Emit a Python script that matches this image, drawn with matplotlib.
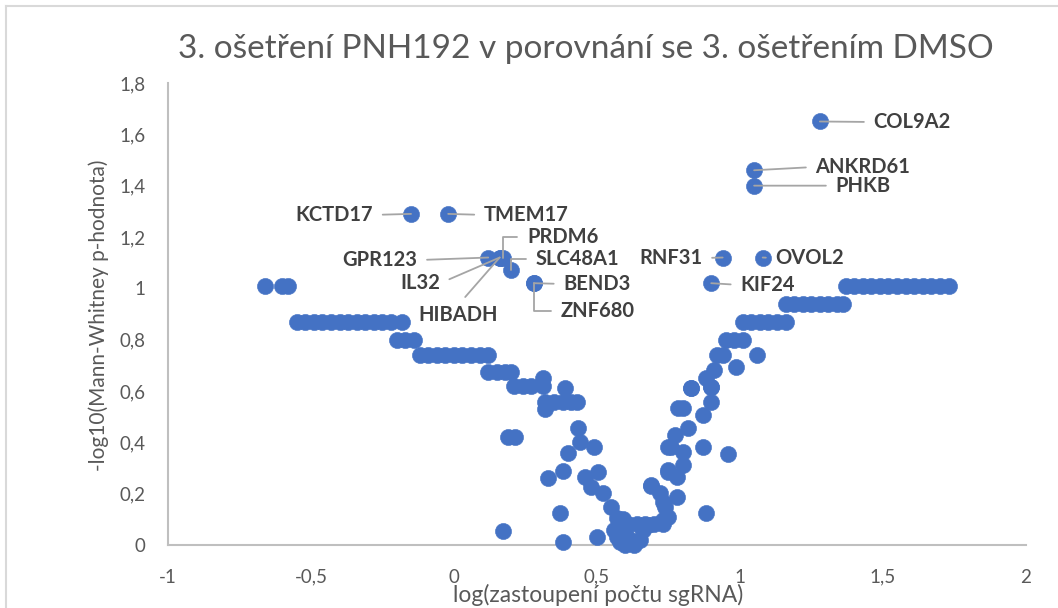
"""
Volcano-like scatter: 3. ošetření PNH192 vs 3. ošetření DMSO (Excel look).
"""
import matplotlib
matplotlib.use("Agg")
import matplotlib.pyplot as plt
from matplotlib.lines import Line2D

# ── DATA ─────────────────────────────────────────────────────────
# horizontal "bands" of points sharing the same p-value
band_101_x = [-0.66, -0.60, -0.58,
              1.37, 1.40, 1.43, 1.46, 1.49, 1.52, 1.55, 1.58, 1.61, 1.64, 1.67, 1.70, 1.73]
band_094_x = [1.16, 1.19, 1.22, 1.25, 1.28, 1.31, 1.34, 1.36]
band_087_x = [-0.55, -0.52, -0.49, -0.46, -0.43, -0.40, -0.37, -0.34, -0.31, -0.28,
              -0.25, -0.22, -0.18,
              1.01, 1.04, 1.07, 1.10, 1.13, 1.16]
band_080_x = [-0.20, -0.17, -0.14, 0.95, 0.98, 1.01]
band_074_x = [-0.12, -0.09, -0.06, -0.03, 0.00, 0.03, 0.06, 0.09, 0.12, 0.92, 0.94, 1.06]
band_068_x = [0.12, 0.15, 0.18, 0.20]
band_062_x = [0.21, 0.24, 0.27, 0.31]
band_056_x = [0.32, 0.35, 0.38, 0.41, 0.43]
band_008_x = [0.58, 0.61, 0.64, 0.67, 0.70, 0.73]

bands = {1.01: band_101_x, 0.94: band_094_x, 0.87: band_087_x, 0.80: band_080_x,
         0.74: band_074_x, 0.675: band_068_x, 0.62: band_062_x, 0.557: band_056_x,
         0.08: band_008_x}

# remaining scattered sgRNAs
other_x = [0.31, 0.39, 0.32, 0.435, 0.44, 0.49, 0.40, 0.38, 0.33, 0.46, 0.505, 0.48,
           0.52, 0.55, 0.57, 0.37, 0.17, 0.38, 0.50, 0.19, 0.215,
           0.56, 0.57, 0.58, 0.60, 0.60, 0.62, 0.63, 0.65, 0.66, 0.59,
           0.69, 0.73, 0.75, 0.75, 0.76, 0.785,
           0.83, 0.90, 0.90, 0.80, 0.87, 0.82, 0.775, 0.75, 0.87, 0.96, 0.80, 0.80,
           0.75, 0.78, 0.69, 0.72, 0.78, 0.74, 0.88, 0.73, 0.68,
           0.985, 0.91, 0.88, 0.90, 0.83]
other_y = [0.65, 0.61, 0.53, 0.456, 0.40, 0.38, 0.36, 0.29, 0.26, 0.265, 0.284, 0.226,
           0.203, 0.148, 0.105, 0.125, 0.055, 0.012, 0.031, 0.42, 0.42,
           0.06, 0.03, 0.01, 0.00, 0.05, 0.02, 0.00, 0.02, 0.06, 0.10,
           0.234, 0.168, 0.109, 0.284, 0.382, 0.534,
           0.61, 0.616, 0.557, 0.534, 0.506, 0.456, 0.428, 0.382, 0.382, 0.354, 0.362, 0.312,
           0.292, 0.265, 0.23, 0.203, 0.187, 0.148, 0.125, 0.097, 0.078,
           0.693, 0.68, 0.65, 0.616, 0.61]

# labelled genes: point, label position
genes   = ["COL9A2", "ANKRD61", "PHKB", "KCTD17", "TMEM17", "GPR123", "PRDM6",
           "SLC48A1", "IL32", "HIBADH", "BEND3", "ZNF680", "RNF31", "OVOL2", "KIF24"]
gene_x  = [1.28, 1.05, 1.05, -0.15, -0.02, 0.12, 0.17, 0.20, 0.16, 0.16, 0.28, 0.28,
           0.94, 1.08, 0.90]
gene_y  = [1.65, 1.46, 1.40, 1.29, 1.29, 1.12, 1.12, 1.07, 1.12, 1.12, 1.02, 1.02,
           1.12, 1.12, 1.02]
label_x = [1.468, 1.265, 1.335, -0.283, 0.105, -0.128, 0.256, 0.285, -0.048, 0.015,
           0.383, 0.372, 0.869, 1.125, 1.002]
label_y = [1.648, 1.473, 1.40, 1.286, 1.286, 1.11, 1.20, 1.113, 1.02, 0.896,
           1.017, 0.912, 1.118, 1.118, 1.013]
label_side = ["l", "l", "l", "r", "l", "r", "l", "l", "r", "c", "l", "l", "r", "l", "l"]
elbow = {"PRDM6", "SLC48A1", "ZNF680"}

x_ticks = [-1, -0.5, 0, 0.5, 1, 1.5, 2]
y_ticks = [0, 0.2, 0.4, 0.6, 0.8, 1.0, 1.2, 1.4, 1.6, 1.8]

TITLE  = "3. ošetření PNH192 v porovnání se 3. ošetřením DMSO"
XLABEL = "log(zastoupení počtu sgRNA)"
YLABEL = "-log10(Mann-Whitney p-hodnota)"
# ─────────────────────────────────────────────────────────────────

BLUE = "#4472C4"
FONT = ["Lato", "DejaVu Sans"]
plt.rcParams["font.family"] = FONT


def fmt(v):
    s = f"{v:g}"
    return s.replace(".", ",")


fig = plt.figure(figsize=(10.58, 6.08), dpi=100)
ax = fig.add_axes([0.1588, 0.1036, 0.8107, 0.7599])

xs, ys = [], []
for y, xlist in bands.items():
    xs += xlist
    ys += [y] * len(xlist)
xs += other_x + gene_x
ys += other_y + gene_y
ax.scatter(xs, ys, s=135, color=BLUE, edgecolors=BLUE, linewidths=0.4, zorder=3,
           clip_on=False)

for g, gx, gy, tx, ty, side in zip(genes, gene_x, gene_y, label_x, label_y, label_side):
    ha = {"l": "left", "r": "right", "c": "center"}[side]
    relpos = {"l": (0, 0.5), "r": (1, 0.5), "c": (0.5, 1.0)}[side]
    conn = "angle,angleA=0,angleB=90,rad=0" if g in elbow else "arc3"
    ax.annotate(g, xy=(gx, gy), xytext=(tx, ty), ha=ha, va="center",
                fontsize=14.5, fontweight="bold", color="#404040",
                arrowprops=dict(arrowstyle="-", color="#A5A5A5", lw=1.3,
                                shrinkA=5, shrinkB=0, relpos=relpos,
                                connectionstyle=conn),
                zorder=4)

ax.set_xlim(-1, 2)
ax.set_ylim(0, 1.8)
ax.set_xticks(x_ticks)
ax.set_yticks(y_ticks)
ax.set_xticklabels([fmt(v) for v in x_ticks])
ax.set_yticklabels([fmt(v) for v in y_ticks])
ax.tick_params(length=0, labelsize=13.5, labelcolor="#595959")
ax.tick_params(axis="x", pad=17)
ax.tick_params(axis="y", pad=16)

for side in ["top", "right"]:
    ax.spines[side].set_visible(False)
for side in ["left", "bottom"]:
    ax.spines[side].set_color("#BFBFBF")
    ax.spines[side].set_linewidth(1.5)

fig.text(0.554, 0.920, TITLE, ha="center", va="center", fontsize=24, color="#595959")
fig.text(0.565, 0.022, XLABEL, ha="center", va="center", fontsize=16.5, color="#595959")
fig.text(0.093, 0.482, YLABEL, ha="center", va="center", rotation=90,
         fontsize=15, color="#595959")

# outer chart border (only left/top edges inside the picture)
fig.add_artist(Line2D([0.0057, 0.0057], [0.0, 0.99], color="#D9D9D9", lw=1.5))
fig.add_artist(Line2D([0.0057, 1.0], [0.99, 0.99], color="#D9D9D9", lw=1.5))

fig.savefig("out.png", dpi=100)
